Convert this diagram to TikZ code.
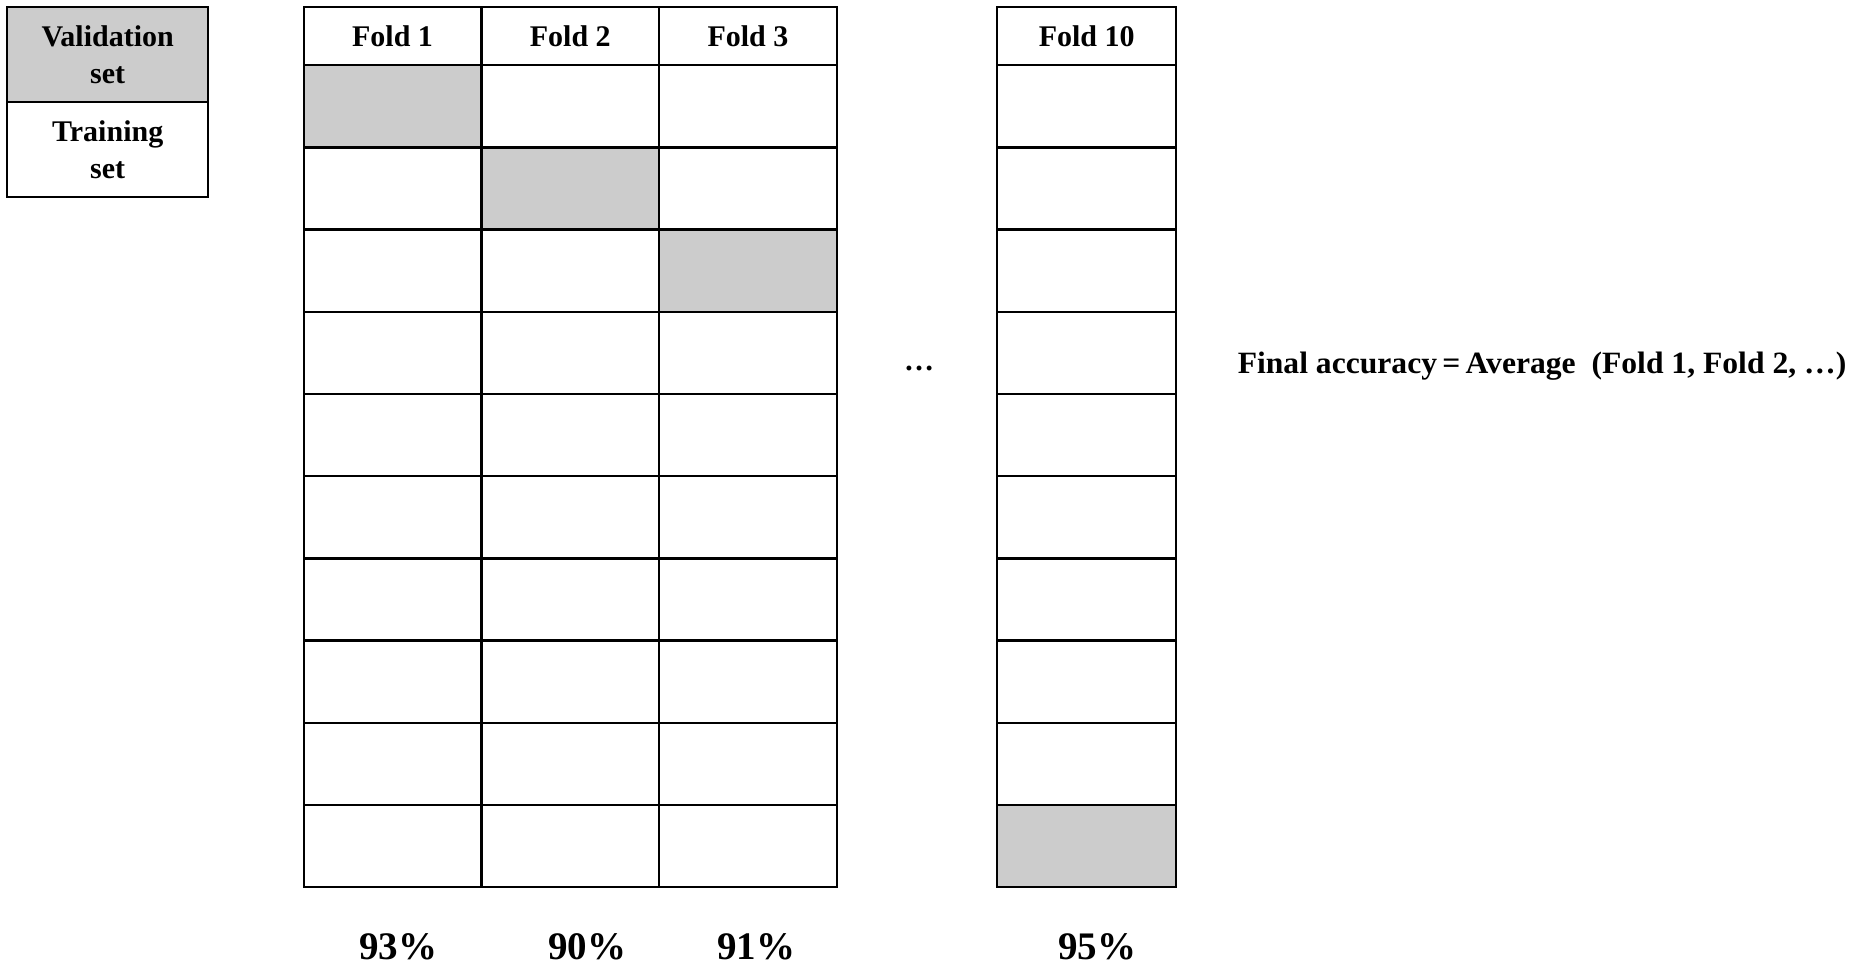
\documentclass[tikz,border=0pt]{standalone}
\usepackage{fontspec}
\setmainfont{Liberation Serif}
\definecolor{valgray}{RGB}{204,204,204}
\begin{document}
\begin{tikzpicture}[x=1pt,y=-1pt,
  cell/.style={draw=black,line width=2.4pt,rectangle,inner sep=0pt,anchor=north west,
    minimum width=177.7pt,minimum height=82.2pt,fill=white},
  val/.style={fill=valgray},
  head/.style={cell,minimum height=58pt,font=\bfseries\fontsize{30}{36}\selectfont},
  legend/.style={draw=black,line width=2.4pt,rectangle,inner sep=0pt,anchor=north west,
    minimum width=201pt,minimum height=95pt,align=center,
    font=\bfseries\fontsize{30}{37}\selectfont},
  pct/.style={inner sep=0pt,font=\bfseries\fontsize{39}{40}\selectfont},
  lbl/.style={font=\bfseries\fontsize{30}{36}\selectfont}]
\useasboundingbox (0,0) rectangle (1853,965);
% legend
\node[legend,fill=valgray] (lv) at (6,6) {Validation\\set};
\node[legend,fill=white] (lt) at (6,101) {Training\\set};
% first three folds
\foreach \c/\x in {1/302.5,2/480.2,3/657.9}{
  \node[head] (h\c) at (\x,6) {Fold \c};
  \foreach \r in {1,...,10}{
    \pgfmathsetmacro{\yy}{64+(\r-1)*82.2}
    \ifnum\r=\c
      \node[cell,val] (c\c-\r) at (\x,\yy) {};
    \else
      \node[cell] (c\c-\r) at (\x,\yy) {};
    \fi
  }
}
% fold 10
\node[head,minimum width=179pt] (h10) at (996,6) {Fold 10};
\foreach \r in {1,...,10}{
  \pgfmathsetmacro{\yy}{64+(\r-1)*82.2}
  \ifnum\r=10
    \node[cell,val,minimum width=179pt] (c10-\r) at (996,\yy) {};
  \else
    \node[cell,minimum width=179pt] (c10-\r) at (996,\yy) {};
  \fi
}
% labels
\node[lbl] (dots) at (919,368) {\ldots};
\node[lbl,font=\bfseries\fontsize{31}{36}\selectfont,xscale=1.02] (final) at (1542,366) {Final accuracy\,=\,Average\ \ (Fold 1, Fold 2, \ldots)};
\node[pct] (p1) at (398,947) {93\%};
\node[pct] (p2) at (587,947) {90\%};
\node[pct] (p3) at (756,947) {91\%};
\node[pct] (p10) at (1097,947) {95\%};
\end{tikzpicture}
\end{document}
